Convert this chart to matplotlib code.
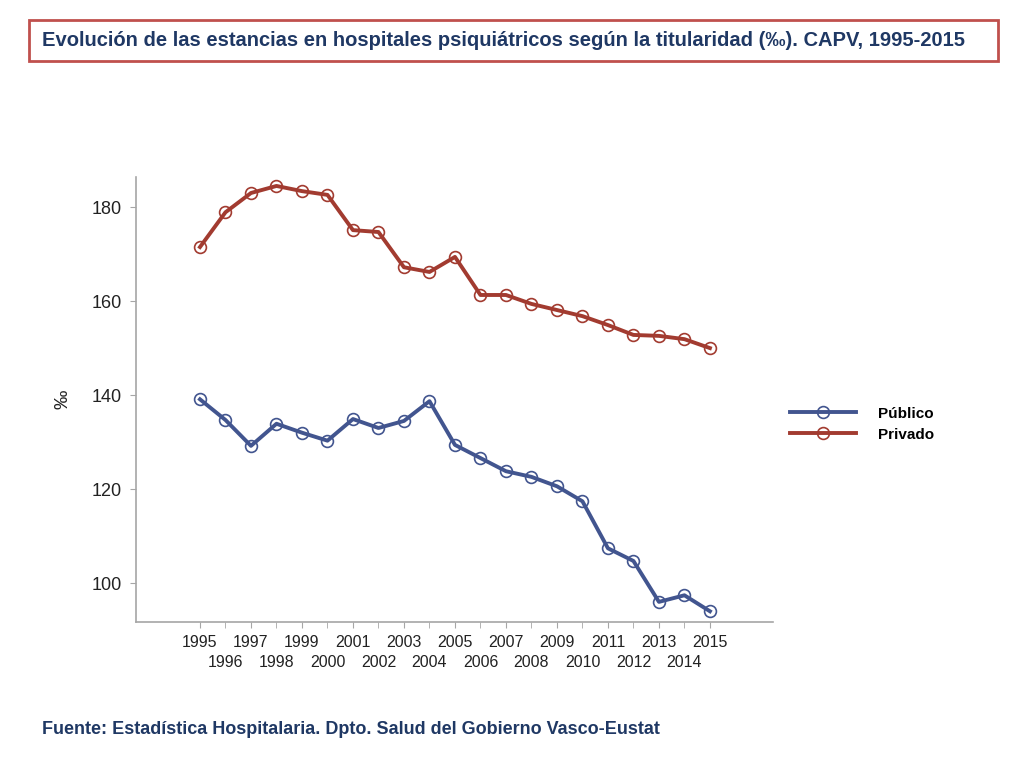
import matplotlib.pyplot as plt
from matplotlib.patches import Rectangle

years = list(range(1995, 2016))
publico = [139.1, 134.7, 129.2, 133.9, 132.0, 130.3, 134.9, 133.0, 134.5, 138.7,
           129.4, 126.6, 123.8, 122.6, 120.6, 117.4, 107.4, 104.7, 96.0, 97.4, 94.0]
privado = [171.5, 178.9, 183.0, 184.5, 183.4, 182.6, 175.1, 174.7, 167.2, 166.2,
           169.4, 161.3, 161.3, 159.4, 158.1, 156.8, 154.9, 152.8, 152.6, 151.9, 150.0]
yticks = [100, 120, 140, 160, 180]
odd_years = [y for y in years if y % 2]
even_years = [y for y in years if not y % 2]

title = 'Evolución de las estancias en hospitales psiquiátricos según la titularidad (‰). CAPV, 1995-2015'
source = 'Fuente: Estadística Hospitalaria. Dpto. Salud del Gobierno Vasco-Eustat'

navy = '#1F3864'
blue = '#42558F'
red = '#A23B30'
grey = '#A6A6A6'
txt = '#222222'

plt.rcParams['font.family'] = ['Liberation Sans', 'DejaVu Sans']

fig = plt.figure(figsize=(10.24, 7.68), dpi=100)
ax = fig.add_axes([0.1328, 0.190, 0.622, 0.5795])

ax.plot(years, publico, color=blue, lw=2.8, marker='o', ms=8.5,
        mfc='none', mec=blue, mew=1.2, label='Público')
ax.plot(years, privado, color=red, lw=2.8, marker='o', ms=8.5,
        mfc='none', mec=red, mew=1.2, label='Privado')

ax.set_xlim(1992.49, 2017.47)
ax.set_ylim(91.7, 186.4)

# odd years on the first row, even years on the second row
ax.set_xticks(odd_years)
ax.set_xticklabels([str(y) for y in odd_years])
ax.set_xticks(even_years, minor=True)
ax.set_xticklabels([str(y) for y in even_years], minor=True)
ax.tick_params(axis='x', which='major', labelsize=11.5, labelcolor=txt,
               length=4.5, color=grey, pad=5)
ax.tick_params(axis='x', which='minor', labelsize=11.5, labelcolor=txt,
               length=4.5, color=grey, pad=19)

ax.set_yticks(yticks)
ax.tick_params(axis='y', labelsize=13, labelcolor=txt, length=4.5, color=grey, pad=6)
ax.set_ylabel('‰', fontsize=14, color=txt, labelpad=14)

for s in ['top', 'right']:
    ax.spines[s].set_visible(False)
for s in ['left', 'bottom']:
    ax.spines[s].set_color(grey)
    ax.spines[s].set_linewidth(1.2)

ax.legend(loc='upper left', bbox_to_anchor=(1.005, 0.515), frameon=False,
          handlelength=4.3, handletextpad=1.5, labelspacing=0.45,
          prop={'weight': 'bold', 'size': 11})

# title box
fig.patches.append(Rectangle((29 / 1024, 1 - 61 / 768), 969 / 1024, 41 / 768,
                             transform=fig.transFigure, fill=False,
                             edgecolor='#C0504D', lw=2))
fig.text(42 / 1024, 1 - 41 / 768, title, fontsize=14.5, fontweight='bold',
         color=navy, va='center', ha='left')
fig.text(42 / 1024, 1 - 730 / 768, source, fontsize=13, fontweight='bold',
         color=navy, va='center', ha='left')

fig.savefig('out.png', dpi=100)
